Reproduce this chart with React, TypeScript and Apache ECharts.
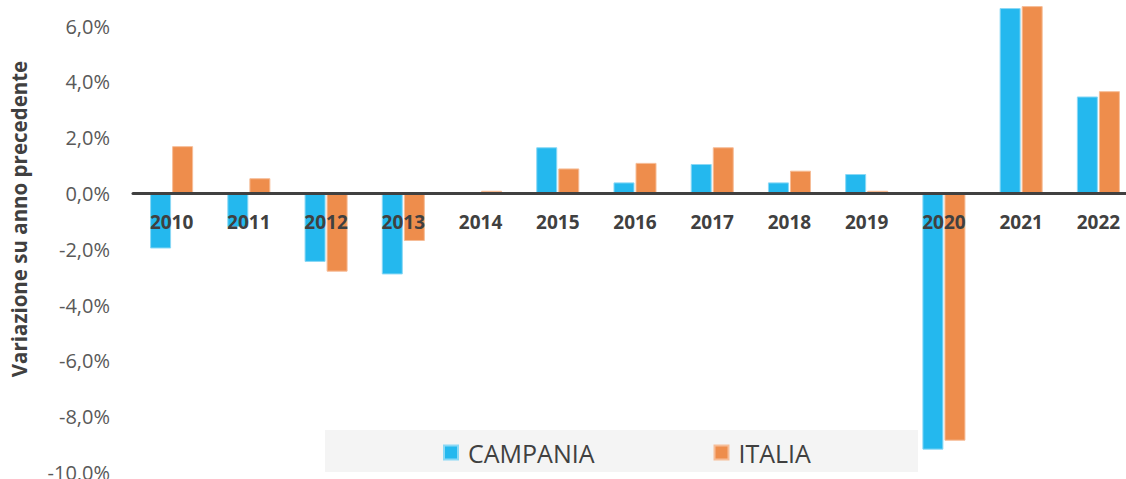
import React, { useEffect, useRef } from "react";
import * as echarts from "echarts";

const years = ["2010","2011","2012","2013","2014","2015","2016","2017","2018","2019","2020","2021","2022"];
const campania = [-1.97, -1.2, -2.45, -2.9, 0.0, 1.66, 0.4, 1.06, 0.4, 0.7, -9.18, 6.65, 3.48];
const italia = [1.7, 0.55, -2.8, -1.7, 0.1, 0.9, 1.1, 1.66, 0.82, 0.1, -8.86, 6.72, 3.67];
const yMin = -10;
const yMax = 8;
const yStep = 2;

const FONT = "'Open Sans', 'Noto Sans', sans-serif";

export default function App() {
  const ref = useRef<HTMLDivElement>(null);
  useEffect(() => {
    if (!ref.current) return;
    const chart = echarts.init(ref.current, undefined, { renderer: "svg" });
    chart.setOption({
      animation: false,
      backgroundColor: "#ffffff",
      grid: { left: 133, right: -11, top: -29.6, bottom: 6.5, containLabel: false, outerBoundsMode: "none" },
      graphic: [
        {
          type: "rect",
          z: -1,
          shape: { x: 325, y: 430, width: 593, height: 42 },
          style: { fill: "#f4f4f4" },
        },
        {
          type: "text",
          x: 19,
          y: 219,
          rotation: Math.PI / 2,
          style: {
            text: "Variazione su anno precedente",
            fontFamily: FONT,
            fontWeight: "bold",
            fontSize: 20.5,
            fill: "#404040",
            align: "center",
            verticalAlign: "middle",
          },
        },
      ],
      legend: {
        left: 443,
        top: 440,
        padding: 0,
        itemWidth: 14,
        itemHeight: 14,
        itemGap: 119,
        icon: "rect",
        textStyle: { fontFamily: FONT, fontSize: 25, color: "#404040", padding: [0, 0, 0, 5] },
        data: ["CAMPANIA", "ITALIA"],
      },
      xAxis: {
        type: "category",
        data: years,
        z: 10,
        axisLine: { onZero: true, lineStyle: { color: "#404040", width: 3 } },
        axisTick: { show: false },
        axisLabel: { show: false },
        splitLine: { show: false },
      },
      yAxis: {
        type: "value",
        min: yMin,
        max: yMax,
        interval: yStep,
        axisLine: { show: false },
        axisTick: { show: false },
        axisLabel: {
          fontFamily: FONT,
          fontSize: 20,
          color: "#595959",
          margin: 23,
          formatter: (v: number) => v.toFixed(1).replace(".", ",") + "%",
        },
        splitLine: {
          lineStyle: {
            color: "#d2d2d2",
            width: 1.5,
            shadowColor: "rgba(0,0,0,0.1)",
            shadowBlur: 3,
            shadowOffsetY: 3,
          },
        },
      },
      series: [
        {
          name: "CAMPANIA",
          type: "bar",
          data: campania,
          barWidth: 21,
          barGap: "5%",
          itemStyle: { color: "#24b8ee", borderColor: "#8ad8f5", borderWidth: 1 },
        },
        {
          name: "ITALIA",
          type: "bar",
          data: italia,
          barWidth: 21,
          barGap: "5%",
          itemStyle: { color: "#ee8d4c", borderColor: "#f6bd98", borderWidth: 1 },
        },
        {
          name: "labels",
          type: "custom",
          z: 20,
          silent: true,
          data: years.map((y, i) => [i, 0]),
          renderItem: (params: any, api: any) => {
            const idx = api.value(0);
            const p = api.coord([idx, 0]);
            return {
              type: "text",
              x: p[0],
              y: p[1] + 28,
              style: {
                text: years[idx],
                fontFamily: FONT,
                fontWeight: "bold",
                fontSize: 19,
                fill: "#404040",
                align: "center",
                verticalAlign: "middle",
              },
            };
          },
        },
      ],
    });
    return () => chart.dispose();
  }, []);
  return (
    <div
      ref={ref}
      style={{ position: "absolute", left: 0, top: 0, width: 1126, height: 479 }}
    />
  );
}
